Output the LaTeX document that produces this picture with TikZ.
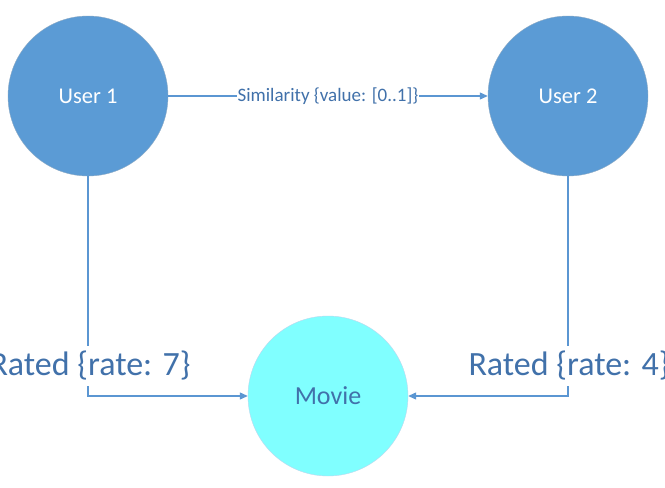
\documentclass[tikz,border=0pt]{standalone}
\usepackage{fontspec}
\setmainfont{Carlito}
\usepackage{tikz}
\usetikzlibrary{arrows.meta, positioning, calc}
\definecolor{userblue}{RGB}{91,155,213}
\definecolor{userline}{RGB}{65,113,156}
\definecolor{moviecyan}{RGB}{128,255,255}
\definecolor{linkblue}{RGB}{91,150,210}
\definecolor{labelblue}{RGB}{65,113,170}
\tikzset{
  usernode/.style={circle,fill=userblue,draw=userline!60,minimum size=160pt,inner sep=0pt,text=white,font=\fontsize{22.5}{26}\selectfont},
  movienode/.style={circle,fill=moviecyan,draw=userblue!40,minimum size=160pt,inner sep=0pt,text=labelblue,font=\fontsize{26}{30}\selectfont},
  simlabel/.style={fill=white,inner sep=1pt,text=labelblue,font=\fontsize{19}{22}\selectfont},
  ratelabel/.style={fill=white,inner xsep=2pt,inner ysep=5pt,text=labelblue,font=\fontsize{34}{38}\selectfont},
  linkarr/.style={-{Triangle[length=8pt,width=7pt]},line width=1.1pt,color=linkblue}
}

\begin{document}
\begin{tikzpicture}[x=1pt,y=-1pt]
  \useasboundingbox[fill=white] (0,0) rectangle (665,488);

  \node[usernode] (user1) at (88,96) {User 1};
  \node[usernode] (user2) at (568,96) {User 2};
  \node[movienode] (movie) at (328,396) {Movie};

  \coordinate (bend1) at (user1.south |- movie.west);
  \coordinate (bend2) at (user2.south |- movie.east);

  \draw[linkarr] (user1) -- node[simlabel] (sim) {Similarity \{value: [0..1]\}} (user2);
  \draw[linkarr] (user1.south) -- (bend1) -- (movie.west);
  \draw[linkarr] (user2.south) -- (bend2) -- (movie.east);

  \node[ratelabel] (rate1) at (90,366) {Rated \{rate: 7\}};
  \node[ratelabel] (rate2) at (569,366) {Rated \{rate: 4\}};
\end{tikzpicture}
\end{document}
